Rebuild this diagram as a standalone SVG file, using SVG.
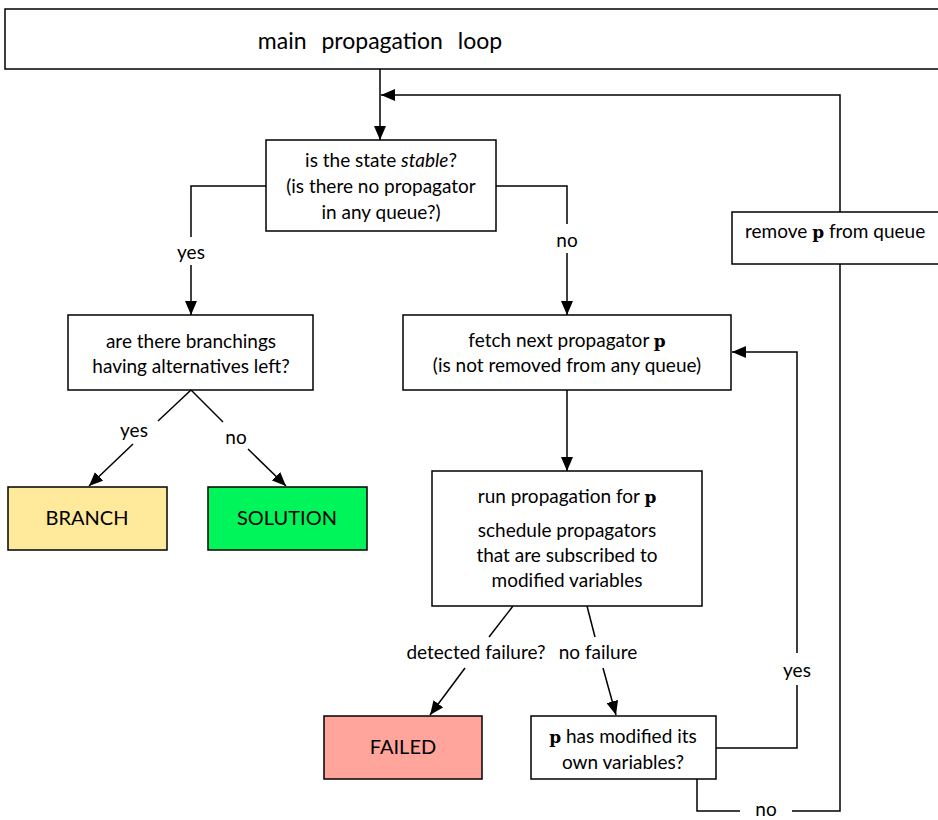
<svg xmlns="http://www.w3.org/2000/svg" width="938" height="820" viewBox="0 0 938 820">
<style>
.box{fill:#fff;stroke:#000;stroke-width:1.5}
.t{font-family:Lato,"Open Sans","Liberation Sans",sans-serif;font-size:19px;fill:#000;text-anchor:middle}
.cap{font-size:20px}
.c{fill:none;stroke:#000;stroke-width:1.5}
.p{font-family:"DejaVu Serif","Liberation Serif",serif;font-weight:bold;font-size:17px}
</style>
<defs>
<marker id="ah" markerUnits="userSpaceOnUse" markerWidth="14" markerHeight="12" refX="14" refY="6" orient="auto">
<path d="M0,0 L14,6 L0,12 z" fill="#000"/>
</marker>
</defs>
<g id="main">
<rect class="box" x="5" y="9" width="940" height="60"/>
<text class="t" x="380" y="49" style="font-size:23px;word-spacing:9px">main propagation loop</text>
</g>
<g id="stable">
<rect class="box" x="266" y="140" width="230" height="91"/>
<text class="t" x="381" y="167">is the state <tspan font-style="italic">stable</tspan>?</text>
<text class="t" x="381" y="193">(is there no propagator</text>
<text class="t" x="381" y="219">in any queue?)</text>
</g>
<g id="branchings">
<rect class="box" x="68" y="315" width="245" height="75"/>
<text class="t" x="191" y="348">are there branchings</text>
<text class="t" x="191" y="373">having alternatives left?</text>
</g>
<g id="branch">
<rect class="box" x="8" y="487" width="159" height="63" style="fill:#FFE99B"/>
<text class="t cap" x="87" y="525">BRANCH</text>
</g>
<g id="solution">
<rect class="box" x="208" y="487" width="159" height="63" style="fill:#00F55A"/>
<text class="t cap" x="287" y="525">SOLUTION</text>
</g>
<g id="fetch">
<rect class="box" x="403" y="315" width="328" height="75"/>
<text class="t" x="567" y="347">fetch next propagator <tspan class="p">p</tspan></text>
<text class="t" x="567" y="372">(is not removed from any queue)</text>
</g>
<g id="run">
<rect class="box" x="432" y="471" width="270" height="135"/>
<text class="t" x="567" y="503">run propagation for <tspan class="p">p</tspan></text>
<text class="t" x="567" y="537">schedule propagators</text>
<text class="t" x="567" y="562">that are subscribed to</text>
<text class="t" x="567" y="587">modified variables</text>
</g>
<g id="failed">
<rect class="box" x="324" y="716" width="158" height="63" style="fill:#FFA59C"/>
<text class="t cap" x="403" y="754">FAILED</text>
</g>
<g id="modified">
<rect class="box" x="531" y="716" width="185" height="63"/>
<text class="t" x="623" y="743"><tspan class="p">p</tspan> has modified its</text>
<text class="t" x="623" y="769">own variables?</text>
</g>
<g id="remove">
<rect class="box" x="732" y="212" width="213" height="52"/>
<text class="t" x="745" y="238" style="text-anchor:start">remove <tspan class="p">p</tspan> from queue</text>
</g>
<g id="connectors">
<path class="c" d="M380,69 V140" marker-end="url(#ah)"/>
<path class="c" d="M840,212 V95 H381" marker-end="url(#ah)"/>
<path class="c" d="M840,264 V811 H792"/>
<path class="c" d="M740,811 H697 V779"/>
<path class="c" d="M266,186 H191 V237"/>
<path class="c" d="M191,265 V315" marker-end="url(#ah)"/>
<path class="c" d="M496,186 H567 V224"/>
<path class="c" d="M567,253 V315" marker-end="url(#ah)"/>
<path class="c" d="M191,390 L158,421"/>
<path class="c" d="M133,444 L89,486" marker-end="url(#ah)"/>
<path class="c" d="M191,390 L223,422"/>
<path class="c" d="M248,449 L286,486" marker-end="url(#ah)"/>
<path class="c" d="M567,390 V471" marker-end="url(#ah)"/>
<path class="c" d="M513,606 L489,637"/>
<path class="c" d="M465,668 L430,715" marker-end="url(#ah)"/>
<path class="c" d="M587,606 L595,637"/>
<path class="c" d="M603,668 L616,715" marker-end="url(#ah)"/>
<path class="c" d="M716,748 H797 V685"/>
<path class="c" d="M797,653 V352 H732" marker-end="url(#ah)"/>
<text class="t" x="191" y="259">yes</text>
<text class="t" x="567" y="247">no</text>
<text class="t" x="134" y="437">yes</text>
<text class="t" x="236" y="444">no</text>
<text class="t" x="476" y="659">detected failure?</text>
<text class="t" x="598" y="659">no failure</text>
<text class="t" x="797" y="677">yes</text>
<text class="t" x="766" y="816">no</text>
</g>
</svg>
